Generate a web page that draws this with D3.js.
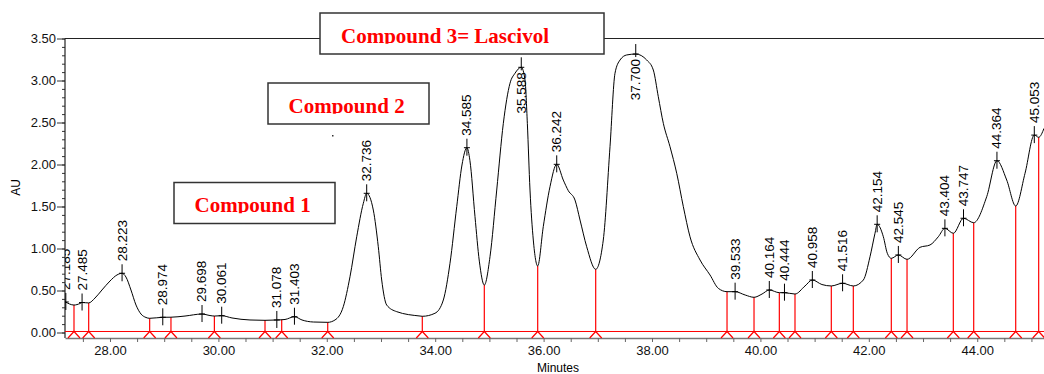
<!DOCTYPE html>
<html>
<head>
<meta charset="utf-8">
<script src="https://cdn.jsdelivr.net/npm/d3@7"></script>
<style>
  body { margin: 0; background: #fff; }
  text { font-family: Arial, "Liberation Sans", sans-serif; }
</style>
</head>
<body>
<script>
// chromatogram trace (minutes, AU)
const times = [27.17, 27.336, 27.446, 27.485, 27.607, 27.723, 27.852, 28.0, 28.129, 28.223, 28.295, 28.387, 28.48, 28.572, 28.664, 28.732,
  28.974, 29.125, 29.384, 29.698, 29.845, 29.926, 30.061, 30.251, 30.583, 30.86, 31.078, 31.229, 31.403, 31.542, 31.751, 32.017,
  32.151, 32.304, 32.428, 32.552, 32.674, 32.736, 32.858, 32.95, 33.013, 33.105, 33.29, 33.72, 33.762, 33.996, 34.15, 34.273,
  34.397, 34.494, 34.585, 34.64, 34.734, 34.814, 34.906, 35.011, 35.135, 35.257, 35.38, 35.472, 35.588, 35.657, 35.7, 35.749,
  35.81, 35.891, 35.994, 36.118, 36.242, 36.363, 36.456, 36.579, 36.672, 36.795, 36.961, 37.101, 37.225, 37.317, 37.41, 37.533,
  37.7, 37.902, 38.024, 38.116, 38.209, 38.332, 38.456, 38.578, 38.701, 38.886, 39.07, 39.223, 39.384, 39.533, 39.72, 39.882,
  40.03, 40.164, 40.349, 40.444, 40.638, 40.823, 40.958, 41.135, 41.308, 41.516, 41.714, 41.899, 42.022, 42.114, 42.154, 42.268,
  42.341, 42.415, 42.545, 42.705, 42.945, 43.129, 43.282, 43.404, 43.559, 43.747, 43.935, 44.175, 44.364, 44.544, 44.71, 44.882,
  45.053, 45.134, 45.232];
const absorbance = [0.367, 0.327, 0.345, 0.357, 0.352, 0.41, 0.506, 0.613, 0.685, 0.705, 0.66, 0.506, 0.327, 0.22, 0.179, 0.169,
  0.181, 0.182, 0.196, 0.22, 0.202, 0.196, 0.2, 0.173, 0.149, 0.145, 0.149, 0.155, 0.188, 0.149, 0.125, 0.121,
  0.149, 0.307, 0.664, 1.14, 1.538, 1.657, 1.458, 1.021, 0.625, 0.327, 0.248, 0.196, 0.193, 0.229, 0.387, 0.824,
  1.498, 1.994, 2.2, 2.05, 1.38, 0.85, 0.565, 0.902, 1.696, 2.49, 2.967, 3.086, 3.157, 3.006, 2.49, 1.696,
  1.101, 0.792, 1.26, 1.736, 2.002, 1.815, 1.688, 1.577, 1.339, 1.021, 0.752, 1.101, 2.212, 3.086, 3.244, 3.304,
  3.315, 3.244, 3.125, 2.807, 2.49, 2.212, 1.895, 1.498, 1.14, 0.863, 0.685, 0.526, 0.486, 0.486, 0.446, 0.419,
  0.458, 0.506, 0.474, 0.474, 0.458, 0.554, 0.625, 0.571, 0.554, 0.586, 0.554, 0.625, 0.902, 1.181, 1.288, 1.14,
  0.943, 0.883, 0.923, 0.871, 1.014, 1.042, 1.14, 1.24, 1.181, 1.36, 1.307, 1.617, 2.045, 1.815, 1.506, 1.895,
  2.35, 2.324, 2.43];

// labelled peaks (retention times)
const peakTimes = [27.185, 27.485, 28.223, 28.974, 29.698, 30.061, 31.078, 31.403, 32.736, 34.585, 35.588, 36.242, 37.700,
  39.533, 40.164, 40.444, 40.958, 41.516, 42.154, 42.545, 43.404, 43.747, 44.364, 45.053];
const peakLabels = ["27.185", "27.485", "28.223", "28.974", "29.698", "30.061", "31.078", "31.403", "32.736", "34.585", "35.588", "36.242", "37.700",
  "39.533", "40.164", "40.444", "40.958", "41.516", "42.154", "42.545", "43.404", "43.747", "44.364", "45.053"];
const labelsInside = ["35.588", "37.700"];

// integration drop lines
const dropTimes = [27.336, 27.607, 28.732, 29.125, 29.926, 30.86, 31.168, 32.017, 33.762, 34.906, 35.891, 36.961,
  39.384, 39.882, 40.349, 40.638, 41.308, 41.714, 42.415, 42.705, 43.559, 43.935, 44.71, 45.134];
const baselineAU = 0.012;

const yTicks = [0, 0.5, 1, 1.5, 2, 2.5, 3, 3.5];
const xTicks = [28, 30, 32, 34, 36, 38, 40, 42, 44];

const compoundNames = ["Compound 1", "Compound 2", "Compound 3= Lascivol"];

const width = 1044, height = 374;
const svg = d3.select("body").append("svg")
    .attr("width", width)
    .attr("height", height);

const x = d3.scaleLinear().domain([27.17, 45.232]).range([65, 1044]);
const y = d3.scaleLinear().domain([0, 3.5]).range([332.5, 38.5]);
const axisY = 338;

svg.append("defs").append("clipPath").attr("id", "plot")
  .append("rect").attr("x", 65).attr("y", 0).attr("width", 979).attr("height", axisY);

function valueAt(t) {
    const i = d3.bisectLeft(times, t);
    if (i <= 0) return absorbance[0];
    if (i >= times.length) return absorbance[times.length - 1];
    const t0 = times[i - 1], t1 = times[i];
    return absorbance[i - 1] + (absorbance[i] - absorbance[i - 1]) * (t - t0) / (t1 - t0);
}

// frame top
svg.append("line")
    .attr("x1", 65).attr("x2", 1044)
    .attr("y1", y(3.5)).attr("y2", y(3.5))
    .attr("stroke", "#222").attr("stroke-width", 1.2);

// y axis: minor every 0.1, major every 0.5
const yMinor = svg.append("g").attr("transform", "translate(65,0)")
    .call(d3.axisLeft(y).tickValues(d3.range(0, 3.501, 0.1)).tickSize(3).tickFormat(""));
yMinor.select(".domain").remove();
const yAxis = svg.append("g").attr("transform", "translate(65,0)")
    .call(d3.axisLeft(y).tickValues(yTicks).tickSize(8).tickPadding(1).tickFormat(d3.format(".2f")));
yAxis.select(".domain").remove();
yAxis.selectAll("text").style("font-size", "13px").attr("fill", "#111");
svg.selectAll("g.tick line").attr("stroke", "#333");
svg.append("line")
    .attr("x1", 65).attr("x2", 65)
    .attr("y1", y(3.5)).attr("y2", axisY)
    .attr("stroke", "#222").attr("stroke-width", 1.2);

// x axis
const xAxis = svg.append("g").attr("transform", "translate(0," + axisY + ")")
    .call(d3.axisBottom(x)
        .tickValues(d3.range(27.5, 45.1, 0.5))
        .tickSize(4).tickSizeOuter(0).tickPadding(4)
        .tickFormat(d => xTicks.includes(d) ? d3.format(".2f")(d) : ""));
xAxis.select(".domain").attr("stroke", "#777").attr("stroke-width", 1.5);
xAxis.selectAll(".tick line").attr("stroke", "#666");
xAxis.selectAll("text").style("font-size", "13px").attr("fill", "#111");

// axis titles
svg.append("text")
    .attr("transform", "translate(20,187.5) rotate(-90)")
    .attr("text-anchor", "middle")
    .style("font-size", "12px")
    .text("AU");
svg.append("text")
    .attr("x", 558).attr("y", 371.5)
    .attr("text-anchor", "middle")
    .style("font-size", "12px")
    .text("Minutes");

const plot = svg.append("g").attr("clip-path", "url(#plot)");

// red baseline
plot.append("line")
    .attr("x1", 65).attr("x2", 1044)
    .attr("y1", y(baselineAU)).attr("y2", y(baselineAU))
    .attr("stroke", "#f00").attr("stroke-width", 1);

// drop lines with the little chevrons
plot.selectAll(".drop")
    .data(dropTimes)
    .enter()
    .append("line")
    .attr("class", "drop")
    .attr("x1", d => x(d)).attr("x2", d => x(d))
    .attr("y1", y(baselineAU)).attr("y2", d => y(valueAt(d)))
    .attr("stroke", "#f00").attr("stroke-width", 1.2);
svg.selectAll(".chev")
    .data(dropTimes)
    .enter()
    .append("path")
    .attr("class", "chev")
    .attr("d", d => "M" + (x(d) - 6) + "," + axisY + "L" + x(d) + "," + y(baselineAU) + "L" + (x(d) + 6) + "," + axisY)
    .attr("fill", "none")
    .attr("stroke", "#f00").attr("stroke-width", 1.2);

// trace
const line = d3.line()
    .x((d, i) => x(times[i]))
    .y(d => y(d))
    .curve(d3.curveMonotoneX);
plot.append("path")
    .datum(absorbance)
    .attr("d", line)
    .attr("fill", "none")
    .attr("stroke", "#000")
    .attr("stroke-width", 1);

// peak markers and labels
peakTimes.forEach(function(t, i) {
    const px = x(t), py = y(valueAt(t));
    const inside = labelsInside.includes(peakLabels[i]);
    plot.append("line")
        .attr("x1", px).attr("x2", px)
        .attr("y1", inside ? py - 10 : py - 9).attr("y2", inside ? py + 3 : py + 8)
        .attr("stroke", "#000");
    plot.append("line")
        .attr("x1", px - 3).attr("x2", px + 3)
        .attr("y1", py).attr("y2", py)
        .attr("stroke", "#000");
    plot.append("text")
        .attr("transform", "translate(" + px + "," + (inside ? py + 5 : py - 12) + ") rotate(-90)")
        .attr("dy", "0.33em")
        .attr("text-anchor", inside ? "end" : "start")
        .style("font-size", "13.5px")
        .attr("fill", "#000")
        .text(peakLabels[i]);
});

// compound boxes (annotation layout)
const boxes = [
    { x: 174, y: 182.5, w: 161, h: 41, tx: 194.5, ty: 212.3 },
    { x: 268, y: 83, w: 161, h: 41, tx: 288.5, ty: 112.7 },
    { x: 320, y: 13, w: 284, h: 41, tx: 341, ty: 42.7 }
];
boxes.forEach(function(b, i) {
    svg.append("rect")
        .attr("x", b.x).attr("y", b.y)
        .attr("width", b.w).attr("height", b.h)
        .attr("fill", "#fff")
        .attr("stroke", "#333").attr("stroke-width", 1.5);
    svg.append("clipPath").attr("id", "cb" + i)
        .append("rect").attr("x", b.x).attr("y", b.y).attr("width", b.w).attr("height", b.ty + 1 - b.y);
    svg.append("text")
        .attr("clip-path", "url(#cb" + i + ")")
        .attr("x", b.tx).attr("y", b.ty)
        .style("font-family", "'Times New Roman', 'Liberation Serif', serif")
        .style("font-weight", "bold")
        .style("font-size", "21px")
        .attr("fill", "#f00")
        .text(compoundNames[i]);
});

// stray dot under the Compound 2 box
svg.append("rect").attr("x", 332).attr("y", 135).attr("width", 1.5).attr("height", 1.5).attr("fill", "#333");
</script>
</body>
</html>
